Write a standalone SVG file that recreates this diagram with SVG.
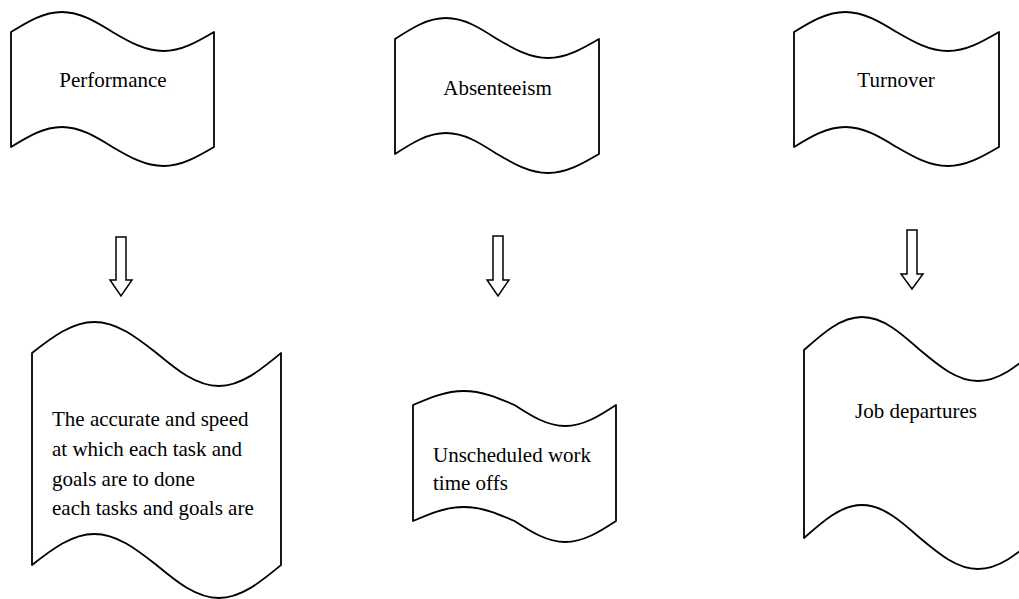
<svg xmlns="http://www.w3.org/2000/svg" width="1019" height="599" viewBox="0 0 1019 599">
<style>
.tape{fill:#fff;stroke:#000;stroke-width:1.8;stroke-linejoin:round}
.arr{fill:#fff;stroke:#000;stroke-width:1.5;stroke-linejoin:miter}
.t{font-family:"Liberation Serif","Times New Roman",serif;font-size:21px;fill:#000}
.c{text-anchor:middle}
</style>
<defs>
<clipPath id="clipPerf"><rect x="40" y="395" width="240" height="125"/></clipPath>
</defs>
<rect width="1019" height="599" fill="#fff"/>
<g id="node-performance">
<path class="tape" d="M11,32 C27.6,21.8 43.4,12 61.8,12 C80.1,12 96,21.8 112.5,32 C129.1,41.7 144.9,51 163.3,51 C181.6,51 197.5,41.7 214,32 L214,147 C197.5,156.7 181.6,166 163.3,166 C144.9,166 129.1,156.7 112.5,147 C96,136.8 80.1,127 61.8,127 C43.4,127 27.6,136.8 11,147 Z"/>
<text class="t c" x="113" y="87">Performance</text>
</g>
<g id="node-absenteeism">
<path class="tape" d="M395,39 C411.6,28.2 427.5,18 446,18 C464.5,18 480.4,28.2 497,39 C513.6,48.7 529.5,58 548,58 C566.5,58 582.4,48.7 599,39 L599,154 C582.4,163.7 566.5,173 548,173 C529.5,173 513.6,163.7 497,154 C480.4,143.2 464.5,133 446,133 C427.5,133 411.6,143.2 395,154 Z"/>
<text class="t c" x="497.5" y="95">Absenteeism</text>
</g>
<g id="node-turnover">
<path class="tape" d="M794,32 C810.7,21.8 826.7,12 845.3,12 C863.8,12 879.8,21.8 896.5,32 C913.2,41.7 929.2,51 947.8,51 C966.3,51 982.3,41.7 999,32 L999,147 C982.3,156.7 966.3,166 947.8,166 C929.2,166 913.2,156.7 896.5,147 C879.8,136.8 863.8,127 845.3,127 C826.7,127 810.7,136.8 794,147 Z"/>
<text class="t c" x="896" y="87">Turnover</text>
</g>
<g id="node-performance-desc">
<path class="tape" d="M32,353 C52.3,337.1 72,322 94.3,322 C116.8,322 136.2,337.1 156.5,353 C176.8,369.9 196.2,386 218.8,386 C241.2,386 260.6,369.9 281,353 L281,565 C260.6,581.9 241.2,598 218.8,598 C196.2,598 176.8,581.9 156.5,565 C136.2,549.1 116.8,534 94.3,534 C72,534 52.3,549.1 32,565 Z"/>
<g clip-path="url(#clipPerf)">
<text class="t" x="52" y="426">The accurate and speed</text>
<text class="t" x="52" y="456">at which each task and</text>
<text class="t" x="52" y="486">goals are to done</text>
<text class="t" x="52" y="515">each tasks and goals are</text>
</g>
</g>
<g id="node-absenteeism-desc">
<path class="tape" d="M413,405 C429.6,397.8 445.4,391 463.8,391 C482.1,391 498,397.8 514.5,405 C531.1,415.8 546.9,426 565.3,426 C583.6,426 599.5,415.8 616,405 L616,521 C599.5,531.8 583.6,542 565.3,542 C546.9,542 531.1,531.8 514.5,521 C498,513.8 482.1,507 463.8,507 C445.4,507 429.6,513.8 413,521 Z"/>
<text class="t" x="433" y="462">Unscheduled work</text>
<text class="t" x="433" y="490">time offs</text>
</g>
<g id="node-turnover-desc">
<path class="tape" d="M804,350 C822.9,333.1 841,317 862,317 C883,317 901.1,333.1 920,350 C938.9,365.9 957,381 978,381 C999,381 1017.1,365.9 1036,350 L1036,538 C1017.1,553.9 999,569 978,569 C957,569 938.9,553.9 920,538 C901.1,521.1 883,505 862,505 C841,505 822.9,521.1 804,538 Z"/>
<text class="t" x="855" y="418">Job departures</text>
</g>
<g id="connectors">
<path class="arr" d="M116,237 H126 V280 H132 L121,296 L110,280 H116 Z"/>
<path class="arr" d="M493,236 H503 V280 H509 L498,296 L487,280 H493 Z"/>
<path class="arr" d="M907,230 H917 V274 H923 L912,289 L901,274 H907 Z"/>
</g>
</svg>
